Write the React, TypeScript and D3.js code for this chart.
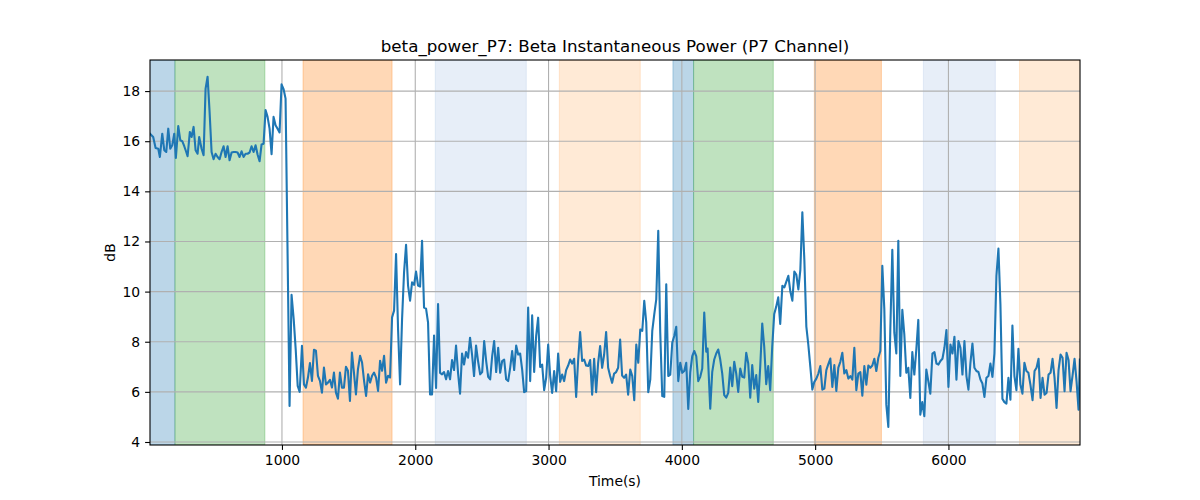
import { useEffect, useRef } from "react";
import * as d3 from "d3";

// [time (s), power (dB)]
const powerSamples: [number, number][] = [
  [10, 16.3], [34, 16.17], [52, 15.73], [72, 15.7], [84, 15.37], [102, 16.3], [117, 15.64], [132, 15.57],
  [147, 16.5], [162, 15.7], [177, 15.84], [192, 16.3], [204, 15.33], [222, 16.6], [237, 16.04], [252, 16.0],
  [267, 15.8], [282, 15.57], [292, 15.4], [309, 16.37], [322, 16.17], [337, 16.57], [352, 15.64], [367, 15.5],
  [379, 16.17], [397, 15.7], [412, 15.44], [427, 18.1], [442, 18.57], [457, 17.17], [472, 15.57], [487, 15.28],
  [502, 15.5], [517, 15.37], [532, 15.28], [547, 15.57], [562, 15.8], [577, 15.37], [592, 15.8], [607, 15.24],
  [622, 15.55], [637, 15.57], [652, 15.57], [667, 15.55], [682, 15.37], [697, 15.6], [712, 15.37], [727, 15.5],
  [742, 15.5], [757, 15.55], [772, 15.8], [787, 15.57], [802, 15.84], [817, 15.47], [832, 15.2], [847, 15.87],
  [862, 15.9], [877, 17.24], [892, 16.97], [907, 16.5], [922, 15.48], [937, 16.97], [952, 16.64], [967, 16.5],
  [982, 16.35], [997, 18.27], [1012, 18.08], [1027, 17.7], [1057, 5.44], [1072, 9.87], [1088, 8.9], [1103, 7.7],
  [1118, 6.24], [1133, 6.0], [1150, 7.84], [1165, 6.3], [1180, 6.17], [1195, 6.57], [1210, 7.15], [1225, 6.44],
  [1240, 7.68], [1255, 7.64], [1270, 6.64], [1285, 6.44], [1300, 5.97], [1315, 6.97], [1330, 6.3], [1345, 6.37],
  [1360, 6.48], [1375, 6.17], [1390, 6.77], [1405, 5.97], [1420, 5.73], [1435, 6.77], [1450, 6.17], [1465, 6.17],
  [1480, 7.0], [1495, 6.84], [1510, 5.64], [1525, 7.57], [1540, 6.77], [1555, 5.9], [1570, 6.9], [1586, 7.44],
  [1601, 7.17], [1616, 6.44], [1631, 5.84], [1646, 6.7], [1661, 6.37], [1676, 6.64], [1691, 6.77], [1706, 6.57],
  [1721, 6.04], [1736, 7.24], [1751, 6.84], [1766, 7.44], [1781, 6.37], [1796, 6.64], [1811, 6.57], [1826, 8.97],
  [1841, 9.24], [1856, 11.5], [1871, 8.5], [1886, 6.3], [1901, 8.9], [1916, 10.77], [1931, 11.87], [1946, 10.24],
  [1961, 9.64], [1976, 10.37], [1991, 10.27], [2006, 10.8], [2021, 10.24], [2036, 10.2], [2051, 12.03], [2066, 9.36],
  [2081, 9.32], [2096, 8.76], [2111, 5.9], [2126, 5.9], [2141, 8.25], [2156, 6.16], [2171, 9.5], [2186, 6.76],
  [2201, 6.7], [2216, 6.79], [2231, 6.5], [2246, 6.83], [2261, 6.5], [2276, 7.27], [2291, 6.87], [2306, 7.85],
  [2321, 6.76], [2336, 5.93], [2351, 7.53], [2366, 7.09], [2381, 7.59], [2396, 7.36], [2411, 8.16], [2426, 7.49],
  [2441, 6.63], [2456, 7.85], [2471, 7.23], [2487, 6.7], [2502, 6.79], [2517, 8.03], [2532, 7.23], [2547, 6.6],
  [2562, 6.5], [2577, 7.43], [2592, 8.03], [2607, 6.79], [2622, 7.76], [2637, 6.76], [2652, 7.23], [2667, 7.29],
  [2682, 6.5], [2697, 6.43], [2712, 6.96], [2727, 7.63], [2742, 6.87], [2757, 7.85], [2772, 7.49], [2787, 7.53],
  [2802, 6.89], [2817, 5.99], [2832, 6.03], [2847, 9.36], [2862, 6.43], [2877, 9.05], [2892, 6.79], [2907, 8.23],
  [2922, 8.96], [2937, 6.99], [2952, 7.09], [2967, 6.07], [2982, 6.56], [2997, 7.89], [3012, 6.65], [3027, 5.96],
  [3042, 6.83], [3057, 6.03], [3072, 7.53], [3087, 6.4], [3102, 6.69], [3117, 6.43], [3132, 6.87], [3147, 7.05],
  [3162, 7.29], [3177, 7.13], [3192, 7.32], [3207, 5.8], [3222, 7.27], [3237, 8.39], [3252, 7.23], [3267, 7.29],
  [3282, 7.05], [3297, 7.03], [3312, 7.27], [3327, 5.89], [3342, 7.32], [3357, 5.99], [3372, 7.16], [3387, 7.83],
  [3402, 6.96], [3417, 7.49], [3432, 8.39], [3447, 6.96], [3462, 6.63], [3477, 6.36], [3492, 6.73], [3507, 6.79],
  [3522, 6.96], [3537, 8.09], [3552, 6.65], [3567, 6.56], [3582, 6.69], [3597, 5.89], [3613, 6.89], [3628, 6.63],
  [3643, 5.67], [3658, 7.89], [3673, 7.16], [3688, 8.49], [3703, 8.43], [3718, 9.63], [3733, 8.76], [3748, 5.99],
  [3763, 6.49], [3778, 8.43], [3793, 9.09], [3808, 9.69], [3823, 12.43], [3838, 8.36], [3853, 5.83], [3868, 5.8],
  [3883, 10.29], [3898, 6.63], [3913, 6.69], [3928, 7.96], [3943, 8.23], [3958, 8.6], [3973, 6.43], [3988, 7.16],
  [4003, 6.76], [4018, 6.83], [4033, 7.16], [4048, 5.32], [4063, 6.79], [4078, 7.43], [4093, 7.63], [4108, 7.43],
  [4123, 6.43], [4138, 6.6], [4153, 6.93], [4168, 9.16], [4183, 7.6], [4193, 7.73], [4213, 5.33], [4228, 6.8],
  [4243, 7.29], [4258, 7.53], [4273, 7.69], [4288, 7.29], [4303, 6.73], [4318, 5.87], [4333, 5.77], [4348, 5.96],
  [4363, 6.97], [4378, 6.23], [4393, 7.2], [4408, 6.73], [4423, 6.0], [4438, 6.93], [4453, 6.6], [4468, 6.57],
  [4483, 7.56], [4498, 7.13], [4513, 5.77], [4528, 7.07], [4543, 6.13], [4558, 6.67], [4573, 5.6], [4588, 7.0],
  [4603, 8.73], [4618, 7.8], [4633, 6.31], [4648, 7.03], [4663, 6.07], [4678, 7.8], [4693, 9.11], [4708, 9.4],
  [4723, 9.77], [4738, 8.71], [4754, 10.23], [4769, 10.17], [4784, 10.4], [4799, 10.63], [4814, 10.0], [4829, 9.64],
  [4844, 10.8], [4859, 10.67], [4874, 10.09], [4889, 10.87], [4904, 13.16], [4919, 11.27], [4934, 8.6], [4949, 7.87],
  [4964, 7.0], [4979, 6.09], [4994, 6.4], [5009, 6.53], [5024, 6.73], [5039, 7.03], [5054, 6.09], [5069, 6.13],
  [5084, 6.87], [5099, 7.11], [5114, 7.33], [5129, 6.2], [5144, 7.07], [5159, 6.04], [5174, 6.97], [5189, 7.2],
  [5204, 7.56], [5219, 6.73], [5234, 6.87], [5249, 6.53], [5264, 6.63], [5279, 6.49], [5294, 7.76], [5309, 6.07],
  [5324, 6.73], [5339, 6.79], [5354, 5.85], [5369, 7.03], [5384, 6.29], [5399, 7.05], [5414, 6.96], [5429, 7.05],
  [5444, 7.32], [5459, 6.83], [5474, 7.36], [5489, 7.63], [5504, 11.03], [5519, 9.29], [5534, 5.49], [5549, 4.6],
  [5564, 8.49], [5579, 11.67], [5594, 8.36], [5609, 7.53], [5624, 12.03], [5639, 6.63], [5654, 9.27], [5669, 8.29],
  [5684, 6.76], [5699, 6.96], [5714, 5.76], [5729, 7.59], [5744, 6.69], [5759, 7.69], [5774, 8.87], [5789, 5.09],
  [5804, 5.59], [5819, 5.03], [5834, 6.89], [5849, 6.43], [5864, 5.93], [5880, 7.53], [5895, 7.59], [5910, 7.13],
  [5925, 7.09], [5940, 7.23], [5955, 7.32], [5970, 7.76], [5985, 8.47], [6000, 6.2], [6015, 7.89], [6030, 7.53],
  [6045, 8.2], [6060, 6.49], [6075, 8.03], [6090, 7.76], [6105, 6.69], [6120, 8.03], [6135, 6.63], [6150, 6.09],
  [6165, 7.16], [6180, 7.93], [6195, 6.96], [6210, 6.83], [6225, 6.79], [6240, 6.49], [6255, 6.33], [6270, 5.8],
  [6285, 6.56], [6300, 6.63], [6315, 7.13], [6330, 6.6], [6345, 7.53], [6360, 10.63], [6375, 11.72], [6390, 9.49],
  [6405, 5.72], [6420, 5.59], [6435, 5.53], [6450, 6.56], [6465, 5.69], [6480, 8.65], [6495, 6.63], [6510, 6.07],
  [6525, 7.72], [6540, 6.29], [6555, 5.93], [6570, 7.16], [6585, 6.83], [6600, 6.76], [6615, 6.29], [6631, 5.67],
  [6646, 6.83], [6661, 6.96], [6676, 7.32], [6691, 5.76], [6706, 6.56], [6721, 5.89], [6736, 5.96], [6751, 6.69],
  [6766, 6.76], [6781, 7.32], [6796, 6.56], [6811, 5.36], [6826, 6.87], [6841, 7.49], [6856, 7.36], [6871, 6.03],
  [6886, 7.56], [6901, 7.27], [6916, 6.03], [6931, 6.65], [6946, 7.32], [6961, 6.43], [6976, 5.29], [6986, 7.29],
];

// shaded time windows and their kind
const spanRanges: [number, number][] = [
  [0, 197], [197, 872], [1158, 1826], [2150, 2833], [3081, 3688],
  [3933, 4088], [4088, 4686], [4994, 5497], [5812, 6352], [6533, 7100],
];
const spanKinds = ["blue", "green", "orange", "faintBlue", "faintOrange",
  "blue", "green", "orange", "faintBlue", "faintOrange"];

const xTicks = [1000, 2000, 3000, 4000, 5000, 6000];
const yTicks = [4, 6, 8, 10, 12, 14, 16, 18];

const spanStyle: Record<string, { color: string; alpha: number }> = {
  blue: { color: "#1f77b4", alpha: 0.3 },
  green: { color: "#2ca02c", alpha: 0.3 },
  orange: { color: "#ff7f0e", alpha: 0.3 },
  faintBlue: { color: "#aec7e8", alpha: 0.3 },
  faintOrange: { color: "#ffbb78", alpha: 0.3 },
};

export default function App() {
  const svgRef = useRef<SVGSVGElement>(null);

  useEffect(() => {
    if (!svgRef.current) return;
    document.body.style.margin = "0";

    const svg = d3.select(svgRef.current);
    svg.selectAll("*").remove();

    const width = 1200, height = 500;
    const margin = { top: 60, right: 120, bottom: 55, left: 150 };
    const W = width - margin.left - margin.right;
    const H = height - margin.top - margin.bottom;
    const font = "DejaVu Sans, sans-serif";

    const x = d3.scaleLinear().domain([10, 6987]).range([0, W]);
    const y = d3.scaleLinear().domain([3.88, 19.24]).range([H, 0]);

    svg.append("rect").attr("width", width).attr("height", height).attr("fill", "#fff");

    const g = svg.append("g").attr("transform", `translate(${margin.left},${margin.top})`);

    g.append("defs").append("clipPath").attr("id", "plot-clip")
      .append("rect").attr("width", W).attr("height", H);

    // shaded windows
    const plot = g.append("g").attr("clip-path", "url(#plot-clip)");
    plot.selectAll(".span").data(spanRanges).enter().append("rect")
      .attr("x", d => x(d[0])).attr("y", 0)
      .attr("width", d => x(d[1]) - x(d[0])).attr("height", H)
      .attr("fill", (_, i) => spanStyle[spanKinds[i]].color)
      .attr("fill-opacity", (_, i) => spanStyle[spanKinds[i]].alpha)
      .attr("stroke", (_, i) => spanStyle[spanKinds[i]].color)
      .attr("stroke-opacity", (_, i) => spanStyle[spanKinds[i]].alpha)
      .attr("stroke-width", 1);

    // grid sits above the spans, below the trace
    plot.selectAll(".vg").data(xTicks).enter().append("line")
      .attr("x1", d => x(d)).attr("x2", d => x(d)).attr("y1", 0).attr("y2", H)
      .attr("stroke", "#b0b0b0").attr("stroke-width", 1.1);
    plot.selectAll(".hg").data(yTicks).enter().append("line")
      .attr("x1", 0).attr("x2", W).attr("y1", d => y(d)).attr("y2", d => y(d))
      .attr("stroke", "#b0b0b0").attr("stroke-width", 1.1);

    // power trace
    const line = d3.line<[number, number]>().x(d => x(d[0])).y(d => y(d[1]));
    plot.append("path").datum(powerSamples).attr("d", line)
      .attr("fill", "none").attr("stroke", "#1f77b4").attr("stroke-width", 2.1)
      .attr("stroke-linejoin", "round").attr("stroke-linecap", "square");

    // frame
    g.append("rect").attr("width", W).attr("height", H)
      .attr("fill", "none").attr("stroke", "#000").attr("stroke-width", 1.1);

    // axes
    const styleAxis = (ax: d3.Selection<SVGGElement, unknown, null, undefined>) => {
      ax.select(".domain").remove();
      ax.selectAll(".tick line").attr("stroke", "#000").attr("stroke-width", 1.1);
      ax.selectAll(".tick text").attr("fill", "#000").attr("font-size", 13.9).attr("font-family", font);
    };
    g.append("g").attr("transform", `translate(0,${H})`)
      .call(d3.axisBottom(x).tickValues(xTicks).tickSize(4.9).tickPadding(4.9).tickFormat(d3.format("d")))
      .call(styleAxis);
    g.append("g")
      .call(d3.axisLeft(y).tickValues(yTicks).tickSize(4.9).tickPadding(4.9).tickFormat(d3.format("d")))
      .call(styleAxis);

    // labels
    svg.append("text").attr("x", margin.left + W / 2).attr("y", 52)
      .attr("text-anchor", "middle").attr("font-size", 16.7).attr("font-family", font)
      .text("beta_power_P7: Beta Instantaneous Power (P7 Channel)");
    svg.append("text").attr("x", margin.left + W / 2).attr("y", 486)
      .attr("text-anchor", "middle").attr("font-size", 13.9).attr("font-family", font)
      .text("Time(s)");
    svg.append("text").attr("transform", `translate(115,${margin.top + H / 2}) rotate(-90)`)
      .attr("text-anchor", "middle").attr("font-size", 13.9).attr("font-family", font)
      .text("dB");
  }, []);

  return <svg ref={svgRef} width={1200} height={500} style={{ display: "block" }} />;
}
